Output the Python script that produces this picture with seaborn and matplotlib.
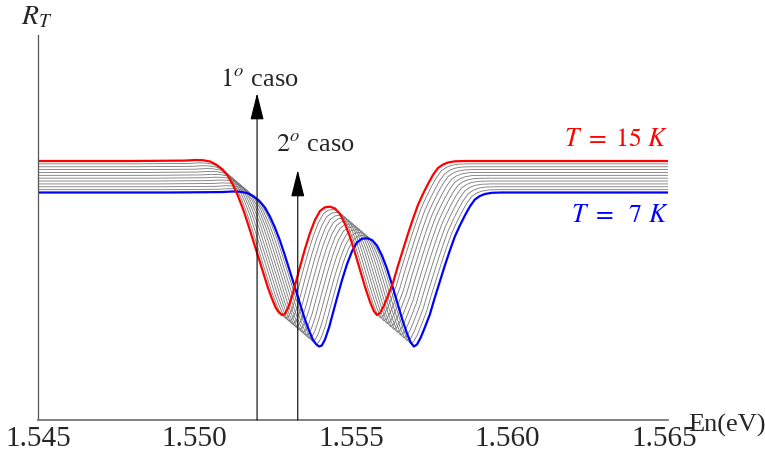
import numpy as np
import pandas as pd
import matplotlib
matplotlib.use('Agg')
import matplotlib.pyplot as plt
import seaborn as sns

# curva a T = 15 K (vermelha)
red_x = [1.5430, 1.5480, 1.54970, 1.55002, 1.55027, 1.55050, 1.55069, 1.55088, 1.55107,
         1.55123, 1.55139, 1.55155, 1.55171, 1.55187, 1.55203, 1.55219, 1.55235, 1.55248,
         1.55260, 1.55270, 1.55280, 1.55289, 1.55299, 1.55312, 1.55324, 1.55337, 1.55353,
         1.55369, 1.55385, 1.55401, 1.55417, 1.55433, 1.55449, 1.55465, 1.55481, 1.55497,
         1.55513, 1.55529, 1.55545, 1.55561, 1.55573, 1.55583, 1.55593, 1.55605, 1.55618,
         1.55634, 1.55650, 1.55666, 1.55682, 1.55698, 1.55714, 1.55730, 1.55746, 1.55762,
         1.55778, 1.55794, 1.55810, 1.55832, 1.55864, 1.5665]
red_y = [0.6727, 0.6727, 0.6738, 0.6753, 0.6748, 0.6714, 0.6636, 0.6519, 0.6338,
         0.6104, 0.5818, 0.5481, 0.5091, 0.4675, 0.4260, 0.3844, 0.3429, 0.3143,
         0.2909, 0.2792, 0.2727, 0.2753, 0.2909, 0.3221, 0.3584, 0.3974, 0.4442,
         0.4857, 0.5195, 0.5429, 0.5525, 0.5540, 0.5494, 0.5351, 0.5091, 0.4753,
         0.4338, 0.3896, 0.3455, 0.3065, 0.2831, 0.2727, 0.2779, 0.2961, 0.3221,
         0.3558, 0.4000, 0.4416, 0.4831, 0.5221, 0.5584, 0.5870, 0.6130, 0.6364,
         0.6545, 0.6636, 0.6688, 0.6719, 0.6727, 0.6727]

# deslocamento de cada curva (T = 15 K ... T = 7 K) em energia e em R_T
shift_x = [0.0, 0.000107, 0.000215, 0.000322, 0.000429, 0.000536,
           0.000644, 0.000751, 0.000858, 0.000965, 0.001073, 0.00118]
shift_y = [0.0, -0.0074, -0.0149, -0.0223, -0.0297, -0.0372,
           -0.0446, -0.0520, -0.0595, -0.0669, -0.0744, -0.0818]

xticks = [1.545, 1.550, 1.555, 1.560, 1.565]
xtick_labels = ['1.545', '1.550', '1.555', '1.560', '1.565']
arrows_x = [1.5520, 1.5533]
arrows_top = [0.849, 0.649]
arrows_text = ['$1^{o}$ caso', '$2^{o}$ caso']
arrows_text_x = [1.55206, 1.55385]
arrows_text_y = [0.883, 0.714]

rows = []
for i in range(len(shift_x)):
    for xv, yv in zip(red_x, red_y):
        rows.append({'curva': i, 'En': xv + shift_x[i], 'R': yv + shift_y[i]})
df = pd.DataFrame(rows)
last = len(shift_x) - 1

sns.set_style('white')
plt.rcParams['font.family'] = ['Liberation Serif', 'DejaVu Serif']
plt.rcParams['mathtext.fontset'] = 'stix'

fig = plt.figure(figsize=(7.65, 4.57), dpi=100)
ax = fig.add_axes([38/765, 1 - 420/457, 630/765, 385/457])

gray = df[(df.curva > 0) & (df.curva < last)]
sns.lineplot(data=gray, x='En', y='R', units='curva', estimator=None, sort=False,
             color='#787878', lw=0.6, ax=ax, legend=False)
sns.lineplot(data=df[df.curva == last], x='En', y='R', estimator=None, sort=False,
             color='#0000ff', lw=1.6, ax=ax)
sns.lineplot(data=df[df.curva == 0], x='En', y='R', estimator=None, sort=False,
             color='#ff0000', lw=1.6, ax=ax)

for xa, ya, txt, xt, yt in zip(arrows_x, arrows_top, arrows_text, arrows_text_x, arrows_text_y):
    ax.annotate('', xy=(xa, ya), xytext=(xa, 0),
                arrowprops=dict(arrowstyle='-|>,head_length=1.4,head_width=0.35',
                                mutation_scale=12, color='black', lw=0.8,
                                shrinkA=0, shrinkB=0))
    ax.text(xt, yt, txt, ha='center', va='center', fontsize=19)

ax.text(1.56515, 0.728, '$T\\ =\\ 15\\ K$', color='#ff0000', fontsize=18.5,
        ha='right', va='center')
ax.text(1.56515, 0.530, '$T\\ =\\ \\ 7\\ K$', color='#0000ff', fontsize=18.5,
        ha='right', va='center')

ax.set_xlim(1.545, 1.56513)
ax.set_ylim(0, 1)
ax.set_xlabel('')
ax.set_ylabel('')
ax.set_xticks(xticks)
ax.set_xticklabels(xtick_labels, fontsize=21)
ax.set_xticks(np.round(np.arange(1.545, 1.5651, 0.001), 4), minor=True)
ax.set_yticks([])
ax.tick_params(axis='x', which='major', direction='in', length=4, width=0.8,
               color='#777777', pad=4)
ax.tick_params(axis='x', which='minor', direction='in', length=2.5, width=0.8,
               color='#777777')
for s in ['top', 'right']:
    ax.spines[s].set_visible(False)
ax.spines['bottom'].set_color('#777777')
ax.spines['bottom'].set_linewidth(1.3)
ax.spines['left'].set_color('#555555')
ax.spines['left'].set_linewidth(0.9)

fig.text(37/765, 1 - 18/457, '$R_T$', fontsize=20, ha='center', va='center')
fig.text(688/765, 1 - 425/457, 'En(eV)', fontsize=19, ha='left', va='center')

fig.savefig('out.png', dpi=100)
